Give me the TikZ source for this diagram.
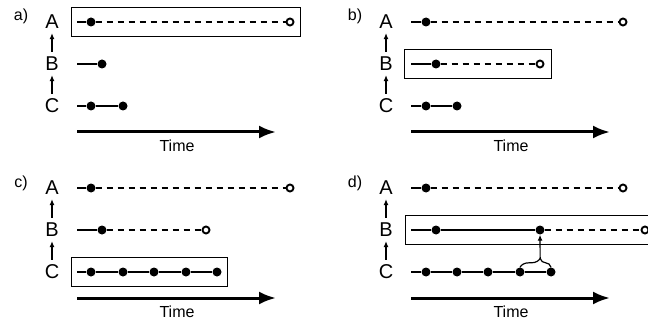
\documentclass[tikz,border=0pt]{standalone}
\usepackage{fontspec}
\setmainfont{Liberation Sans}
\usetikzlibrary{arrows.meta,fit,calc,decorations.pathreplacing}

\tikzset{
  dot/.style={circle, fill=black, inner sep=0pt, minimum size=9pt},
  hollow/.style={circle, draw=black, fill=white, line width=1.9pt, inner sep=0pt, minimum size=7pt},
  row/.style={inner sep=1pt, font=\fontsize{20}{24}\selectfont},
  tag/.style={inner sep=0.75pt, font=\fontsize{16}{19}\selectfont},
  live/.style={line width=2.4pt},
  future/.style={line width=2.4pt, dash pattern=on 6pt off 5pt},
  selbox/.style={draw, line width=0.9pt, inner xsep=6pt, inner ysep=10pt},
  upArrow/.style={line width=1.2pt, -{Latex[length=6pt,width=5pt]}, shorten <=4pt, shorten >=3pt},
  timeArrow/.style={line width=3pt, -{Latex[length=17pt,width=13pt]}},
}

\begin{document}
\begin{tikzpicture}[x=1pt,y=1pt,yscale=-1,xscale=1]
  \useasboundingbox (0,0) rectangle (648,326);

  % ---------------- panel a ----------------
  \begin{scope}[name prefix=a-]
    % Text Node
    \node[tag, anchor=base] (lbl) at (21,21) {a)};
    \node[row] (A) at (52,22) {A};
    \node[row] (B) at (52,64) {B};
    \node[row] (C) at (52,106) {C};
    \draw[upArrow] (C) -- (B);
    \draw[upArrow] (B) -- (A);
    % row A
    \coordinate (a0) at (77,22);
    \node[dot] (a1) at (91,22) {};
    \node[hollow] (a2) at (290,22) {};
    \draw[live] (a0) -- (a1);
    \draw[future] (a1) -- (a2);
    \node[selbox, fit=(a0)(a2)] (sel) {};
    % row B
    \coordinate (b0) at (77,64);
    \node[dot] (b1) at (102,64) {};
    \draw[live] (b0) -- (b1);
    % row C
    \coordinate (c0) at (77,106);
    \node[dot] (c1) at (91,106) {};
    \node[dot] (c2) at (123,106) {};
    \draw[live] (c0) -- (c1) -- (c2);
    % time axis
    \coordinate (t0) at (77,132);
    \coordinate (t1) at (276,132);
    \draw[timeArrow] (t0) -- (t1);
    \node[tag] (time) at (177,146) {Time};
  \end{scope}

  % ---------------- panel b ----------------
  \begin{scope}[shift={(334,0)}, name prefix=b-]
    % Text Node
    \node[tag, anchor=base] (lbl) at (21,21) {b)};
    \node[row] (A) at (52,22) {A};
    \node[row] (B) at (52,64) {B};
    \node[row] (C) at (52,106) {C};
    \draw[upArrow] (C) -- (B);
    \draw[upArrow] (B) -- (A);
    % row A
    \coordinate (a0) at (77,22);
    \node[dot] (a1) at (92,22) {};
    \node[hollow] (a2) at (289,22) {};
    \draw[live] (a0) -- (a1);
    \draw[future] (a1) -- (a2);
    % row B
    \coordinate (b0) at (77,64);
    \node[dot] (b1) at (102,64) {};
    \node[hollow] (b2) at (206,64) {};
    \draw[live] (b0) -- (b1);
    \draw[future] (b1) -- (b2);
    \node[selbox, fit=(b0)(b2), inner xsep=7pt] (sel) {};
    % row C
    \coordinate (c0) at (77,106);
    \node[dot] (c1) at (92,106) {};
    \node[dot] (c2) at (123,106) {};
    \draw[live] (c0) -- (c1) -- (c2);
    % time axis
    \coordinate (t0) at (77,132);
    \coordinate (t1) at (276,132);
    \draw[timeArrow] (t0) -- (t1);
    \node[tag] (time) at (177,146) {Time};
  \end{scope}

  % ---------------- panel c ----------------
  \begin{scope}[shift={(0,166)}, name prefix=c-]
    % Text Node
    \node[tag, anchor=base] (lbl) at (21,21) {c)};
    \node[row] (A) at (52,22) {A};
    \node[row] (B) at (52,64) {B};
    \node[row] (C) at (52,106) {C};
    \draw[upArrow] (C) -- (B);
    \draw[upArrow] (B) -- (A);
    % row A
    \coordinate (a0) at (77,22);
    \node[dot] (a1) at (91,22) {};
    \node[hollow] (a2) at (290,22) {};
    \draw[live] (a0) -- (a1);
    \draw[future] (a1) -- (a2);
    % row B
    \coordinate (b0) at (77,64);
    \node[dot] (b1) at (102,64) {};
    \node[hollow] (b2) at (206,64) {};
    \draw[live] (b0) -- (b1);
    \draw[future] (b1) -- (b2);
    % row C
    \coordinate (c0) at (77,106);
    \node[dot] (c1) at (91,106) {};
    \node[dot] (c2) at (123,106) {};
    \node[dot] (c3) at (154,106) {};
    \node[dot] (c4) at (186,106) {};
    \node[dot] (c5) at (217,106) {};
    \draw[live] (c0) -- (c1) -- (c2) -- (c3) -- (c4) -- (c5);
    \node[selbox, fit=(c0)(c5)] (sel) {};
    % time axis
    \coordinate (t0) at (77,132);
    \coordinate (t1) at (276,132);
    \draw[timeArrow] (t0) -- (t1);
    \node[tag] (time) at (177,146) {Time};
  \end{scope}

  % ---------------- panel d ----------------
  \begin{scope}[shift={(334,166)}, name prefix=d-]
    % Text Node
    \node[tag, anchor=base] (lbl) at (21,21) {d)};
    \node[row] (A) at (52,22) {A};
    \node[row] (B) at (52,64) {B};
    \node[row] (C) at (52,106) {C};
    \draw[upArrow] (C) -- (B);
    \draw[upArrow] (B) -- (A);
    % row A
    \coordinate (a0) at (77,22);
    \node[dot] (a1) at (92,22) {};
    \node[hollow] (a2) at (289,22) {};
    \draw[live] (a0) -- (a1);
    \draw[future] (a1) -- (a2);
    % row B
    \coordinate (b0) at (77,64);
    \node[dot] (b1) at (102,64) {};
    \node[dot] (b2) at (206,64) {};
    \node[hollow] (b3) at (311,64) {};
    \draw[live] (b0) -- (b1) -- (b2);
    \draw[future] (b2) -- (b3);
    \node[selbox, fit=(b0)(b3)] (sel) {};
    % row C
    \coordinate (c0) at (77,106);
    \node[dot] (c1) at (92,106) {};
    \node[dot] (c2) at (123,106) {};
    \node[dot] (c3) at (154,106) {};
    \node[dot] (c4) at (186,106) {};
    \node[dot] (c5) at (217,106) {};
    \draw[live] (c0) -- (c1) -- (c2) -- (c3) -- (c4) -- (c5);
    % brace over the last two steps of C
    \draw[line width=1.2pt, decorate, decoration={brace, amplitude=9pt, aspect=0.65}]
      (c4.north) -- (c5.north);
    \coordinate (tip) at ($(c4.north)!0.65!(c5.north)+(0,-9)$);
    \draw[upArrow, shorten <=0pt, shorten >=0pt] (tip) -- (b2);
    % time axis
    \coordinate (t0) at (77,132);
    \coordinate (t1) at (276,132);
    \draw[timeArrow] (t0) -- (t1);
    \node[tag] (time) at (177,146) {Time};
  \end{scope}
\end{tikzpicture}
\end{document}
